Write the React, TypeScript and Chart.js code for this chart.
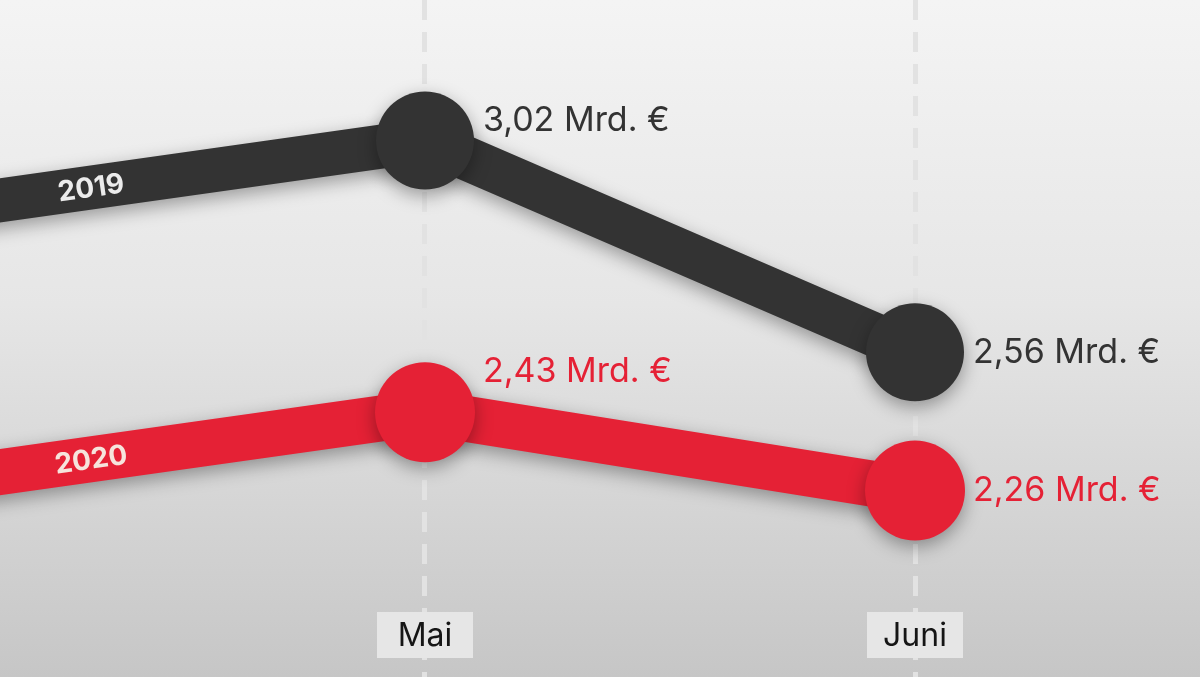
import React, { useEffect, useRef } from "react";
import { Chart, registerables } from "chart.js";

Chart.register(...registerables);

const months = ["April", "Mai", "Juni"];
const visibleMonths = ["Mai", "Juni"];
const seriesNames = ["2019", "2020"];
const values2019 = [2.87, 3.02, 2.56];
const values2020 = [2.28, 2.43, 2.26];
const labels2019 = ["", "3,02 Mrd. €", "2,56 Mrd. €"];
const labels2020 = ["", "2,43 Mrd. €", "2,26 Mrd. €"];

const DARK = "#333333";
const RED = "#e52135";
const FONT = "Inter, 'Open Sans', sans-serif";

export default function App() {
  const ref = useRef<HTMLCanvasElement | null>(null);

  useEffect(() => {
    if (!ref.current) return;

    const shadowPlugin = {
      id: "shadow",
      beforeDatasetDraw(chart: any) {
        const ctx = chart.ctx;
        ctx.save();
        ctx.shadowColor = "rgba(0,0,0,0.35)";
        ctx.shadowBlur = 18;
        ctx.shadowOffsetX = 0;
        ctx.shadowOffsetY = 6;
      },
      afterDatasetDraw(chart: any) {
        chart.ctx.restore();
      },
    };

    const labelPlugin = {
      id: "labels",
      afterDatasetsDraw(chart: any) {
        const ctx = chart.ctx;
        const valueLabels = [labels2019, labels2020];
        const colors = [DARK, RED];
        const seriesTextColors = ["#ececec", "#f6e4dc"];
        chart.data.datasets.forEach((ds: any, di: number) => {
          const meta = chart.getDatasetMeta(di);
          const pts = meta.data;
          ctx.save();
          ctx.font = `400 34px ${FONT}`;
          ctx.fillStyle = colors[di];
          ctx.textBaseline = "middle";
          ctx.textAlign = "left";
          pts.forEach((p: any, i: number) => {
            const t = valueLabels[di][i];
            if (!t) return;
            const dy = i === 1 ? -20 - di * 20 : 0;
            ctx.fillText(t, p.x + 58, p.y + dy);
          });
          ctx.restore();
          const a = pts[0], b = pts[1];
          const tx = 91;
          const ty = a.y + ((tx - a.x) / (b.x - a.x)) * (b.y - a.y);
          const ang = Math.atan2(b.y - a.y, b.x - a.x);
          ctx.save();
          ctx.translate(tx, ty);
          ctx.rotate(ang);
          ctx.font = `700 28px ${FONT}`;
          ctx.fillStyle = seriesTextColors[di];
          ctx.textAlign = "center";
          ctx.textBaseline = "middle";
          ctx.fillText(seriesNames[di], 0, 1);
          ctx.restore();
        });
        const xs = chart.scales.x;
        ctx.save();
        ctx.font = `400 32px ${FONT}`;
        ctx.textAlign = "center";
        ctx.textBaseline = "middle";
        visibleMonths.forEach((m) => {
          const idx = months.indexOf(m);
          const x = xs.getPixelForValue(idx);
          const w = 96, h = 46, cy = 635;
          ctx.fillStyle = "#e6e6e6";
          ctx.fillRect(x - w / 2, cy - h / 2, w, h);
          ctx.fillStyle = "#151515";
          ctx.fillText(m, x, cy + 1);
        });
        ctx.restore();
      },
    };

    const toPts = (arr: number[]) => arr.map((v, i) => ({ x: i, y: v }));

    const chart = new Chart(ref.current, {
      type: "line",
      data: {
        datasets: [
          {
            label: seriesNames[0],
            data: toPts(values2019),
            borderColor: DARK,
            backgroundColor: DARK,
            borderWidth: 44,
            pointRadius: [0, 49, 49],
            pointHoverRadius: [0, 49, 49],
            pointBackgroundColor: DARK,
            pointBorderWidth: 0,
            tension: 0,
            clip: false,
          },
          {
            label: seriesNames[1],
            data: toPts(values2020),
            borderColor: RED,
            backgroundColor: RED,
            borderWidth: 46,
            pointRadius: [0, 50, 50],
            pointHoverRadius: [0, 50, 50],
            pointBackgroundColor: RED,
            pointBorderWidth: 0,
            tension: 0,
            clip: false,
          },
        ],
      },
      options: {
        animation: false,
        responsive: true,
        maintainAspectRatio: false,
        layout: { padding: 0, autoPadding: false },
        events: [],
        plugins: {
          legend: { display: false },
          tooltip: { enabled: false },
        },
        scales: {
          x: {
            type: "linear",
            min: 1 - 425 / 490,
            max: 1 + 775 / 490,
            afterBuildTicks: (scale: any) => {
              scale.ticks = visibleMonths.map((m) => ({ value: months.indexOf(m) }));
            },
            grid: {
              display: true,
              color: "#e2e2e2",
              lineWidth: 5,
              drawTicks: false,
            },
            border: { display: false, dash: [20, 12] },
            ticks: { display: false },
          },
          y: {
            display: false,
            min: 1.855,
            max: 3.325,
          },
        },
      },
      plugins: [shadowPlugin, labelPlugin],
    } as any);

    return () => chart.destroy();
  }, []);

  return (
    <div
      style={{
        position: "fixed",
        left: 0,
        top: 0,
        width: 1200,
        height: 677,
        background: "linear-gradient(180deg, #f4f4f4 0%, #e6e6e6 45%, #c6c6c6 100%)",
      }}
    >
      <canvas ref={ref} />
    </div>
  );
}
